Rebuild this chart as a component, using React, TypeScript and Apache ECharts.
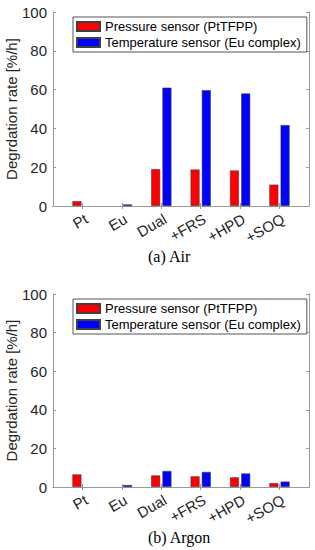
import React, { useEffect, useRef } from "react";
import * as echarts from "echarts";

const categories = ["Pt", "Eu", "Dual", "+FRS", "+HPD", "+SOQ"];
const airPressure: (number | null)[] = [2.5, null, 19, 18.8, 18.3, 11];
const airTemperature: (number | null)[] = [null, 0.8, 61, 59.7, 58, 41.7];
const argonPressure: (number | null)[] = [6.5, null, 6, 5.5, 5, 2];
const argonTemperature: (number | null)[] = [null, 1, 8.3, 7.8, 7, 2.8];
const yTicks = [0, 20, 40, 60, 80, 100];
const seriesNames = ["Pressure sensor (PtTFPP)", "Temperature sensor (Eu complex)"];
const captions = ["(a) Air", "(b) Argon"];

const tickPositions = categories.map((_, i) => i + 1);
const toPairs = (arr: (number | null)[]) => arr.map((v, i) => [i + 1, v]);

const AXIS_COLOR = "#9a9a9a";
const TEXT_COLOR = "#262626";
const SANS = "Liberation Sans, Arial, sans-serif";

export default function App() {
  const ref = useRef<HTMLDivElement>(null);
  useEffect(() => {
    if (!ref.current) return;
    const chart = echarts.init(ref.current, undefined, { renderer: "svg" });
    const grids = [
      { left: 53, top: 12, width: 256, height: 194 },
      { left: 53, top: 294, width: 256, height: 193 },
    ];
    const xAxis: any[] = [];
    const yAxis: any[] = [];
    const series: any[] = [];
    const data = [
      [airPressure, airTemperature],
      [argonPressure, argonTemperature],
    ];
    grids.forEach((_, g) => {
      xAxis.push({
        type: "value",
        gridIndex: g,
        min: 0.25,
        max: 6.75,
        position: "bottom",
        axisLine: { show: true, lineStyle: { color: AXIS_COLOR, width: 1 } },
        axisTick: { show: true, inside: true, length: 3, customValues: tickPositions, lineStyle: { color: AXIS_COLOR } },
        axisLabel: {
          show: true,
          customValues: tickPositions,
          formatter: (v: number) => categories[Math.round(v) - 1] ?? "",
          rotate: 30,
          margin: 5,
          verticalAlign: "top",
          fontFamily: SANS,
          fontSize: 15,
          color: TEXT_COLOR,
        },
        splitLine: { show: false },
      });
      xAxis.push({
        type: "value",
        gridIndex: g,
        min: 0.25,
        max: 6.75,
        position: "top",
        axisLine: { show: true, lineStyle: { color: AXIS_COLOR, width: 1 } },
        axisTick: { show: true, inside: true, length: 3, customValues: tickPositions, lineStyle: { color: AXIS_COLOR } },
        axisLabel: { show: false },
        splitLine: { show: false },
      });
      yAxis.push({
        type: "value",
        gridIndex: g,
        min: 0,
        max: 100,
        interval: 20,
        position: "left",
        name: "Degrdation rate [%/h]",
        nameLocation: "middle",
        nameGap: 34,
        nameMoveOverlap: false,
        nameTextStyle: { fontFamily: SANS, fontSize: 15, color: TEXT_COLOR },
        axisLine: { show: true, lineStyle: { color: AXIS_COLOR, width: 1 } },
        axisTick: { show: true, inside: true, length: 3, lineStyle: { color: AXIS_COLOR } },
        axisLabel: {
          show: true,
          margin: 6,
          fontFamily: SANS,
          fontSize: 15,
          color: TEXT_COLOR,
          customValues: yTicks,
        },
        splitLine: { show: false },
      });
      yAxis.push({
        type: "value",
        gridIndex: g,
        min: 0,
        max: 100,
        interval: 20,
        position: "right",
        axisLine: { show: true, lineStyle: { color: AXIS_COLOR, width: 1 } },
        axisTick: { show: true, inside: true, length: 3, lineStyle: { color: AXIS_COLOR } },
        axisLabel: { show: false },
        splitLine: { show: false },
      });
      const colors = ["#ff0000", "#0000ff"];
      [0, 1].forEach((s) => {
        series.push({
          type: "bar",
          name: seriesNames[s],
          xAxisIndex: g * 2,
          yAxisIndex: g * 2,
          data: toPairs(data[g][s]),
          barWidth: 9,
          barGap: "25%",
          itemStyle: { color: colors[s], borderColor: "#404040", borderWidth: 0.6 },
        });
      });
    });

    const legendTops = [17, 299];
    const legend = legendTops.map((top) => ({
      orient: "vertical",
      left: 73,
      top,
      data: seriesNames,
      itemWidth: 23,
      itemHeight: 9,
      itemGap: 3,
      padding: [3, 6, 3, 3],
      borderColor: "#555",
      borderWidth: 1,
      backgroundColor: "#fff",
      selectedMode: false,
      icon: "rect",
      textStyle: { fontFamily: SANS, fontSize: 13, color: "#000", lineHeight: 13 },
    }));

    chart.setOption({
      animation: false,
      backgroundColor: "#fff",
      grid: grids.map((gr) => ({ ...gr, outerBoundsMode: "none", containLabel: false })),
      xAxis,
      yAxis,
      series,
      legend,
      graphic: [
        {
          type: "text",
          left: 148,
          top: 248,
          style: { text: captions[0], fontFamily: "Liberation Serif, Times New Roman, serif", fontSize: 16, fill: "#000" },
        },
        {
          type: "text",
          left: 148,
          top: 529,
          style: { text: captions[1], fontFamily: "Liberation Serif, Times New Roman, serif", fontSize: 16, fill: "#000" },
        },
      ],
    });
    return () => chart.dispose();
  }, []);
  return <div ref={ref} style={{ width: 315, height: 550, position: "absolute", left: 0, top: 0 }} />;
}
